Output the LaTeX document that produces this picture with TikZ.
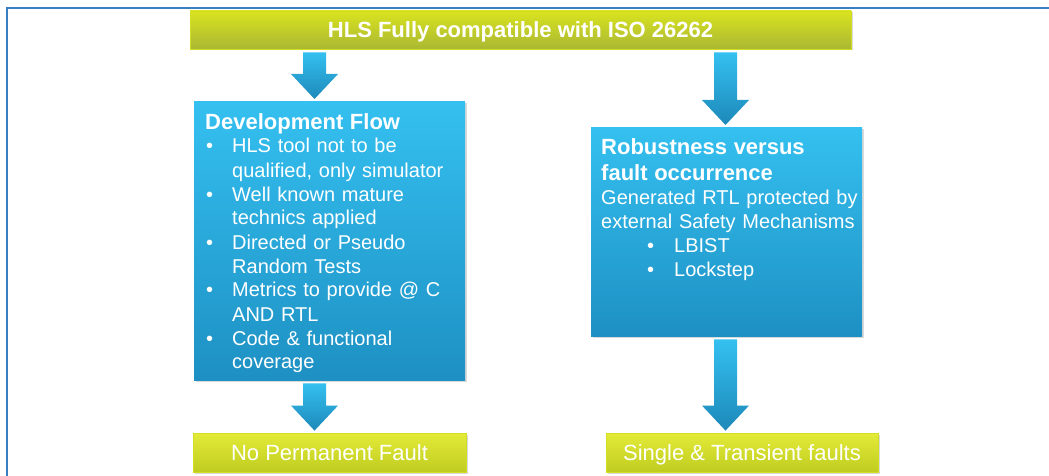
\documentclass[tikz,border=0pt]{standalone}
\usepackage{fontspec}
\setmainfont{Liberation Sans}
\usetikzlibrary{calc,shadows}

\definecolor{limetop}{HTML}{D9E31F}
\definecolor{limebot}{HTML}{AAB833}
\definecolor{limelite}{HTML}{E4EB38}
\definecolor{limedark}{HTML}{BFCC20}
\definecolor{limeedge}{HTML}{D2DE22}
\definecolor{skytop}{HTML}{34C0F0}
\definecolor{skybot}{HTML}{1E90C3}
\definecolor{framecol}{HTML}{3A7EC2}

% bullet line with hanging indent: #1 bullet indent, #2 text indent
\newcommand\bitem[3]{\par\hangindent=#2\hangafter=1\noindent
  \makebox[#2][l]{\hspace*{#1}\textbullet}#3\par}

% block arrow between two nodes at abscissa #3
\newcommand\blockarrow[3]{%
  \shade[arrowfill] let \p1=(#1.south), \p2=(#2.north) in
    ({(#3-11.5)*1pt},\y1-3pt) -- ({(#3+11.5)*1pt},\y1-3pt)
    -- ({(#3+11.5)*1pt},\y2+27pt) -- ({(#3+23.5)*1pt},\y2+27pt)
    -- ({#3*1pt},\y2+2pt)
    -- ({(#3-23.5)*1pt},\y2+27pt) -- ({(#3-11.5)*1pt},\y2+27pt) -- cycle;}

\begin{document}
\begin{tikzpicture}[
  x=1pt, y=-1pt,
  limebar/.style={draw=limeedge, line width=0.8pt, top color=limetop,
                  bottom color=limebot, inner sep=0pt, text=white,
                  text height=16pt, text depth=0pt,
                  drop shadow={opacity=.3, shadow xshift=1.5pt, shadow yshift=-1.5pt}},
  limebox/.style={limebar, top color=limelite, bottom color=limedark,
                  font=\fontsize{22}{26}\selectfont},
  skybox/.style={top color=skytop, bottom color=skybot, inner sep=0pt,
                 minimum width=271pt, anchor=north west,
                 drop shadow={opacity=.3, shadow xshift=1.5pt, shadow yshift=-1.5pt}},
  boxtext/.style={anchor=base west, inner sep=0pt, text=white,
                  text width=262pt, align=left,
                  font=\fontsize{20}{24}\selectfont},
  arrowfill/.style={top color=skytop, bottom color=skybot!95!black},
  frameline/.style={draw=framecol, line width=1.5pt}
]
\useasboundingbox (0,0) rectangle (1049,476);

% ===== column positions =====
\def\xL{314.5}   % left arrows
\def\xR{725.5}   % right arrows

% ===== frame =====
\draw[frameline] (7,476) -- (7,8) -- (1049,8);

% ===== top bar =====
\node[limebar, minimum width=661pt, minimum height=38pt,
      font=\fontsize{22}{26}\selectfont\bfseries] (hls) at (520.5,30)
  {HLS Fully compatible with ISO 26262};

% ===== left column: development flow =====
\node[skybox, minimum height=279pt] (devflow) at (194,101) {};
\node[boxtext] (devtext) at ($(devflow.north west)+(11,28)$)
  {{\fontsize{22}{24}\selectfont\bfseries Development Flow\par}
   \bitem{1pt}{27pt}{HLS tool not to be\newline qualified, only simulator}
   \bitem{1pt}{27pt}{Well known mature\newline technics applied}
   \bitem{1pt}{27pt}{Directed or Pseudo\newline Random Tests}
   \bitem{1pt}{27pt}{Metrics to provide @ C\newline AND RTL}
   \bitem{1pt}{27pt}{Code \& functional\newline coverage}};

% ===== right column: robustness =====
\node[skybox, minimum height=209pt] (robust) at (591,127) {};
\node[boxtext] (robtext) at ($(robust.north west)+(10,27)$)
  {{\fontsize{22}{26}\selectfont\bfseries Robustness versus\newline fault occurrence\par}
   Generated RTL protected by\newline external Safety Mechanisms
   \bitem{46pt}{73pt}{LBIST}
   \bitem{46pt}{73pt}{Lockstep}};

% ===== results =====
\node[limebox, minimum width=273pt, minimum height=39pt] (noperm) at (329.5,452.5)
  {No Permanent Fault};
\node[limebox, minimum width=272pt, minimum height=39pt] (transient) at (742,452.5)
  {Single \& Transient faults};

% ===== arrows =====
\blockarrow{hls}{devflow}{\xL}
\blockarrow{hls}{robust}{\xR}
\blockarrow{devflow}{noperm}{\xL}
\blockarrow{robust}{transient}{\xR}

\end{tikzpicture}
\end{document}
